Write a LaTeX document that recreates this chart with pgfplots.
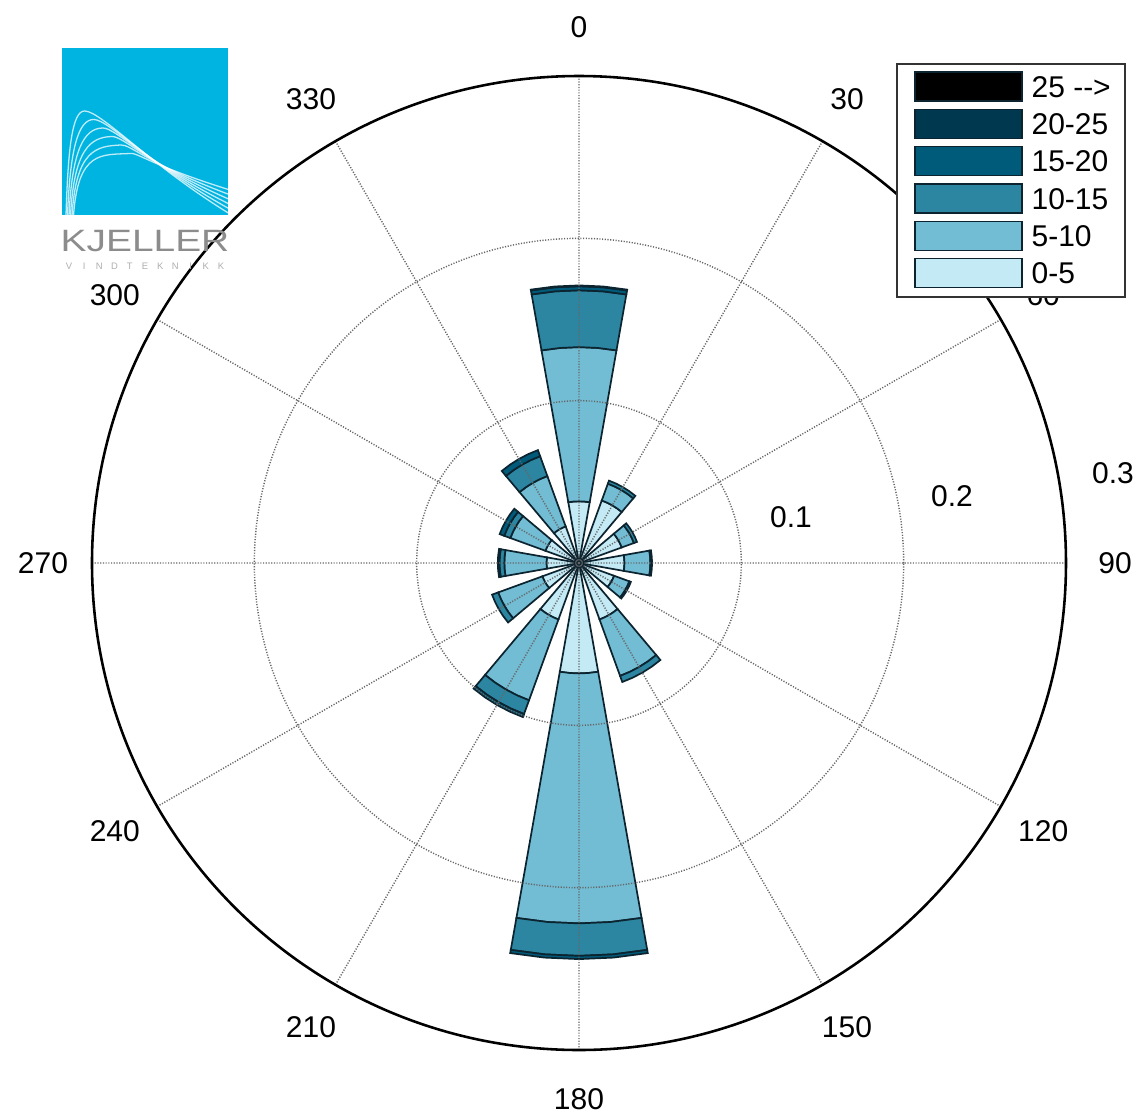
\documentclass[border=0pt]{standalone}
\usepackage{pgfplots}
\pgfplotsset{compat=1.18}
\usepackage{pgfplotstable}
\usepgfplotslibrary{polar}
\usepackage{fontspec}
\setmainfont{Liberation Sans}

\definecolor{b1}{RGB}{196,234,246}
\definecolor{b2}{RGB}{114,188,212}
\definecolor{b3}{RGB}{44,134,161}
\definecolor{b4}{RGB}{0,90,122}
\definecolor{b5}{RGB}{0,57,79}
\definecolor{b6}{RGB}{0,0,0}
\definecolor{edgec}{RGB}{12,36,48}
\definecolor{logoc}{RGB}{0,180,225}
\definecolor{logot}{RGB}{140,140,140}

% cumulative frequency per direction (0-5, 5-10, 10-15, 15-20, 20-25, 25-->)
\pgfplotstableread{
dir  s1     s2     s3     s4     s5     s6
0    0.038  0.133  0.168  0.1705 0.171  0.171
30   0.041  0.052  0.054  0.054  0.054  0.054
60   0.028  0.036  0.038  0.038  0.038  0.038
90   0.028  0.044  0.045  0.045  0.045  0.045
120  0.023  0.033  0.034  0.034  0.034  0.034
150  0.037  0.074  0.078  0.078  0.078  0.078
180  0.068  0.222  0.242  0.244  0.244  0.244
210  0.037  0.090  0.099  0.101  0.101  0.101
240  0.024  0.053  0.057  0.057  0.057  0.057
270  0.020  0.046  0.049  0.050  0.050  0.050
300  0.022  0.045  0.049  0.052  0.052  0.052
330  0.024  0.057  0.070  0.074  0.074  0.074
}\rose

% one band of a sector: direction, inner, outer, colour
\newcommand\band[4]{%
  \pgfmathparse{#3>#2}%
  \ifdim\pgfmathresult pt>0.5pt
    \pgfmathsetmacro\angA{90-#1+10}%
    \pgfmathsetmacro\angB{90-#1+5}%
    \pgfmathsetmacro\angC{90-#1}%
    \pgfmathsetmacro\angD{90-#1-5}%
    \pgfmathsetmacro\angE{90-#1-10}%
    \edef\tmp{\noexpand\addplot[fill=#4, draw=edgec, line width=0.6pt]
      coordinates {(\angA,#2) (\angA,#3) (\angB,#3) (\angC,#3) (\angD,#3) (\angE,#3)
                   (\angE,#2) (\angD,#2) (\angC,#2) (\angB,#2)} -- cycle;}%
    \tmp
  \fi}

\begin{document}
\begin{tikzpicture}[font=\fontsize{10.5}{12}\selectfont]
\begin{polaraxis}[
  scale only axis, width=340.9pt, height=340.9pt,
  xmin=0, xmax=360, ymin=0, ymax=0.3,
  xtick={0,30,...,330}, ytick={0.1,0.2},
  xticklabels={}, yticklabels={},
  major tick length=0pt,
  xmajorgrids, ymajorgrids,
  major grid style={black!60, line width=0.5pt, dash pattern=on 0.4pt off 0.55pt},
  x axis line style={black, line width=0.9pt},
  y axis line style={draw=none},
  axis on top,
  clip=false,
]
\pgfplotsforeachungrouped \i in {0,...,11}{%
  \pgfplotstablegetelem{\i}{dir}\of\rose \let\d\pgfplotsretval
  \def\rprev{0}%
  \pgfplotsforeachungrouped \k in {1,...,6}{%
    \pgfplotstablegetelem{\i}{s\k}\of\rose \let\rcur\pgfplotsretval
    \band{\d}{\rprev}{\rcur}{b\k}%
    \let\rprev\rcur
  }%
}
\coordinate (c) at (axis cs:0,0);
\end{polaraxis}

% everything below in reference pixel coordinates
\begin{scope}[shift={(c)}, xshift=-202.65pt, yshift=197.05pt, x=0.35pt, y=-0.35pt]
  % direction labels
  \foreach \d in {0,30,...,330}
    \node at ({579+536*sin(\d)},{563-536*cos(\d)}) {\d};
  % ring labels
  \node at (791,517.5) {0.1};
  \node at (952,496) {0.2};
  \node at (1113,473) {0.3};

  % legend
  \draw[fill=white, draw=black!80, line width=0.45pt] (897,64) rectangle (1125,297);
  \foreach \c/\t [count=\n from 0] in {b6/25 -{}-{}>, b5/20-25, b4/15-20, b3/10-15, b2/5-10, b1/0-5}{
    \draw[fill=\c, draw=edgec, line width=0.45pt] (915,{72+37.3*\n}) rectangle (1022,{101+37.3*\n});
    \node[anchor=west, inner sep=0pt] at (1031,{87+37.3*\n}) {\t};
  }

  % logo
  \fill[logoc] (62,48) rectangle (228,215);
  \begin{scope}
    \clip (62,48) rectangle (228,215);
    \foreach \k in {0,...,5}{
      \draw[white, opacity=0.75, line width=0.45pt]
        ({66+1.5*\k},216) .. controls ({68+2*\k},150) and ({72+6*\k},{110+9*\k}) ..
        ({85+9*\k},{111+8.5*\k}) .. controls ({102+7*\k},{112+8*\k}) and (150,165) ..
        (230,{214-4.8*\k});
    }
  \end{scope}
  \node[logot, xscale=1.26, inner sep=0pt] at (145,241) {\fontsize{10.8}{12}\selectfont KJELLER};
  \foreach \ch [count=\m from 0] in {V,I,N,D,T,E,K,N,I,K,K}
    \node[logot!70, inner sep=0pt] at ({69+15.2*\m},266) {\fontsize{3.3}{4}\selectfont\ch};

  \pgfresetboundingbox
  \path (0,0) rectangle (1141,1117);
\end{scope}
\end{tikzpicture}
\end{document}
